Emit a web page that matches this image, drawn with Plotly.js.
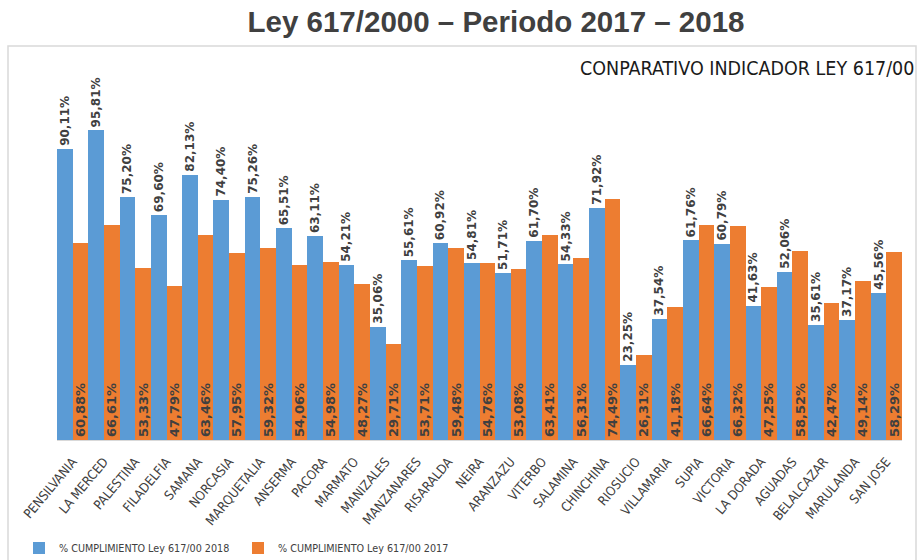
<!DOCTYPE html>
<html>
<head>
<meta charset="utf-8">
<script src="https://cdn.plot.ly/plotly-3.0.1.min.js"></script>
<style>html,body{margin:0;padding:0;background:#fff;}#chart{width:921px;height:560px;}</style>
</head>
<body>
<div id="chart"></div>
<script>
const categories = ["PENSILVANIA","LA MERCED","PALESTINA","FILADELFIA","SAMANA","NORCASIA","MARQUETALIA","ANSERMA","PACORA","MARMATO","MANIZALES","MANZANARES","RISARALDA","NEIRA","ARANZAZU","VITERBO","SALAMINA","CHINCHINA","RIOSUCIO","VILLAMARIA","SUPIA","VICTORIA","LA DORADA","AGUADAS","BELALCAZAR","MARULANDA","SAN JOSE"];
const values2018 = [90.11,95.81,75.20,69.60,82.13,74.40,75.26,65.51,63.11,54.21,35.06,55.61,60.92,54.81,51.71,61.70,54.33,71.92,23.25,37.54,61.76,60.79,41.63,52.06,35.61,37.17,45.56];
const values2017 = [60.88,66.61,53.33,47.79,63.46,57.95,59.32,54.06,54.98,48.27,29.71,53.71,59.48,54.76,53.08,63.41,56.31,74.49,26.31,41.18,66.64,66.32,47.25,58.52,42.47,49.14,58.29];
const seriesNames = ["% CUMPLIMIENTO Ley 617/00 2018","% CUMPLIMIENTO Ley 617/00 2017"];

const fmt = v => v.toFixed(2).replace('.', ',') + '%';
const narrow = "DejaVu Sans Condensed, Liberation Sans Narrow, Liberation Sans, sans-serif";
const wide = "DejaVu Sans, Liberation Sans, sans-serif";

const traces = [
  {
    type: 'bar', name: seriesNames[0], x: categories, y: values2018,
    marker: {color: '#5b9bd5'},
    text: values2018.map(fmt), textposition: 'outside', textangle: -90,
    textfont: {family: wide, size: 12, color: '#404040', weight: 'bold'},
    constraintext: 'none', cliponaxis: false, hoverinfo: 'x+y'
  },
  {
    type: 'bar', name: seriesNames[1], x: categories, y: values2017,
    marker: {color: '#ed7d31'},
    text: values2017.map(fmt), textposition: 'inside', insidetextanchor: 'start', textangle: -90,
    textfont: {family: wide, size: 13, color: '#404040', weight: 'bold'},
    constraintext: 'none', cliponaxis: false, hoverinfo: 'x+y'
  }
];

const L = 57, R = 19, T = 20, B = 120;
const W = 921 - L - R, H = 560 - T - B;
const px = x => (x - L) / W;
const py = y => (560 - B - y) / H;

const layout = {
  width: 921, height: 560,
  margin: {l: L, r: R, t: T, b: B, pad: 0, autoexpand: false},
  paper_bgcolor: '#ffffff', plot_bgcolor: '#ffffff',
  barmode: 'group', bargap: 0, bargroupgap: 0,
  title: {
    text: 'Ley 617/2000 – Periodo 2017 – 2018',
    font: {family: 'Liberation Sans, Arial, sans-serif', size: 29.5, color: '#404040', weight: 'bold'},
    x: 496 / 921, xanchor: 'center', xref: 'container',
    y: 1 - 22 / 560, yanchor: 'middle', yref: 'container'
  },
  xaxis: {
    type: 'category', tickangle: -50, ticks: '', showgrid: false, automargin: false,
    showline: true, linecolor: '#d9d9d9', linewidth: 1, ticklabelstandoff: 8,
    tickfont: {family: narrow, size: 13, color: '#404040'}
  },
  yaxis: {
    range: [0, 130], visible: false, showgrid: false, zeroline: false, automargin: false
  },
  showlegend: true,
  legend: {
    orientation: 'h', x: px(19), xanchor: 'left', y: py(548), yanchor: 'middle',
    font: {family: narrow, size: 10.7, color: '#404040'},
    entrywidth: 174, entrywidthmode: 'pixels', itemwidth: 30,
    bgcolor: 'rgba(0,0,0,0)'
  },
  annotations: [{
    text: 'CONPARATIVO INDICADOR LEY 617/00', xref: 'paper', yref: 'paper',
    x: px(916), xanchor: 'right', y: py(68), yanchor: 'middle', showarrow: false,
    font: {family: narrow, size: 19.5, color: '#1a1a1a'}
  }],
  shapes: [{
    type: 'rect', xref: 'paper', yref: 'paper',
    x0: px(8), x1: px(916), y0: py(565), y1: py(46),
    line: {color: '#d9d9d9', width: 1.5}, fillcolor: 'rgba(0,0,0,0)', layer: 'below'
  }]
};

Plotly.newPlot('chart', traces, layout, {displayModeBar: false, staticPlot: true});
</script>
</body>
</html>
